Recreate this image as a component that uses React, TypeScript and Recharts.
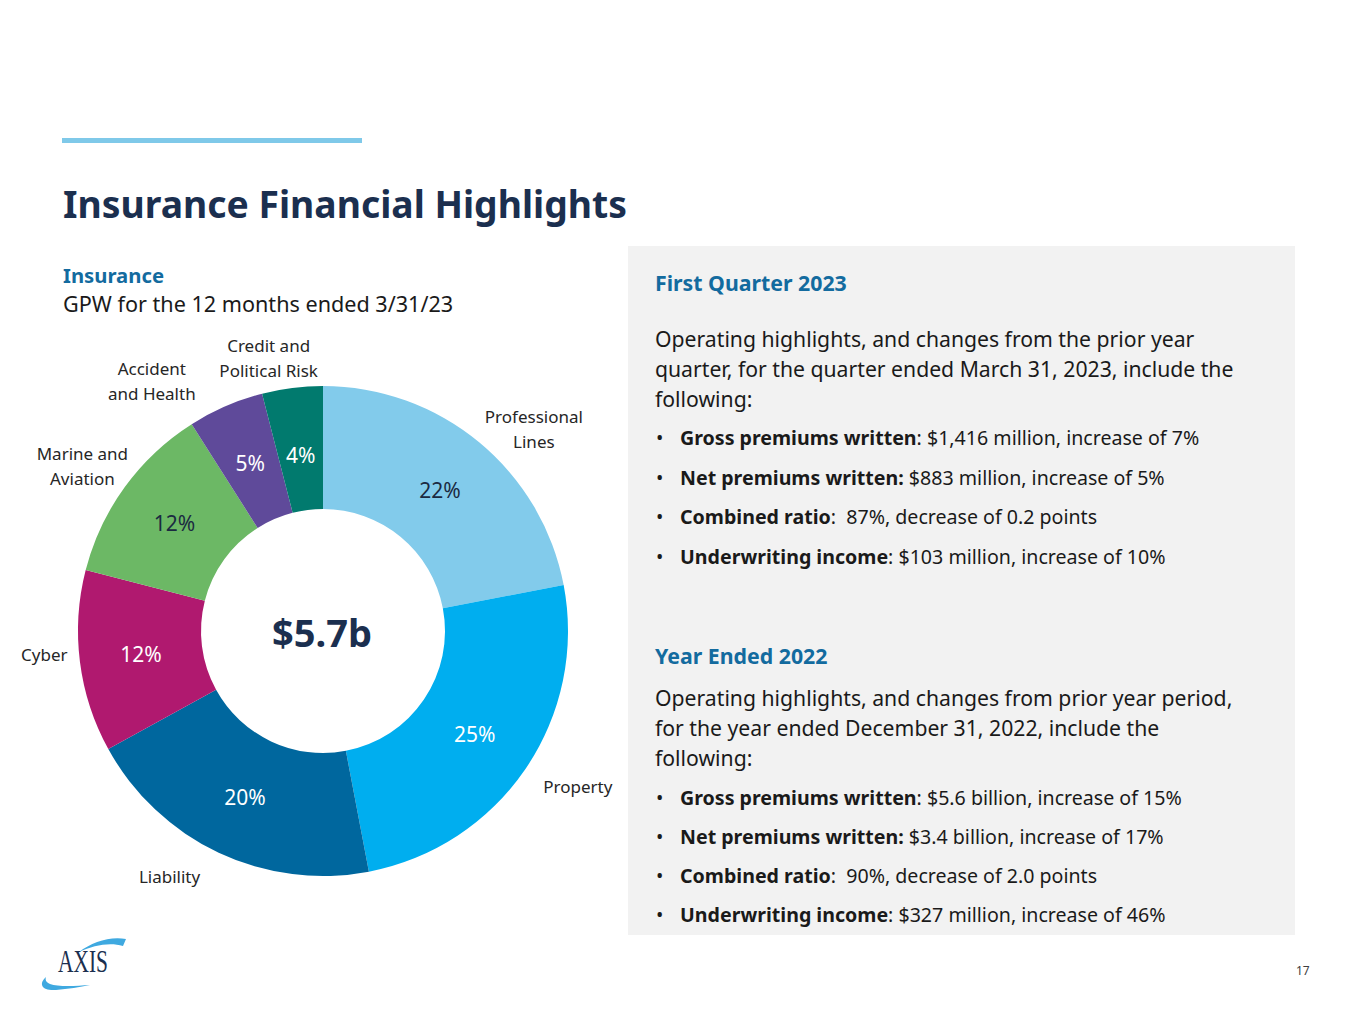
import React from 'react';
import { PieChart, Pie, Cell } from 'recharts';

// GPW mix, 12 months ended 3/31/23 (clockwise from 12 o'clock)
const segments = ['Professional Lines', 'Property', 'Liability', 'Cyber', 'Marine and Aviation', 'Accident and Health', 'Credit and Political Risk'];
const shares = [22, 25, 20, 12, 12, 5, 4];
const labelLines = [
  ['Professional', 'Lines'],
  ['Property'],
  ['Liability'],
  ['Cyber'],
  ['Marine and', 'Aviation'],
  ['Accident', 'and Health'],
  ['Credit and', 'Political Risk'],
];

const q1Bullets = [
  ['Gross premiums written', ': $1,416 million, increase of 7%'],
  ['Net premiums written:', ' $883 million, increase of 5%'],
  ['Combined ratio', ':  87%, decrease of 0.2 points'],
  ['Underwriting income', ': $103 million, increase of 10%'],
];
const fyBullets = [
  ['Gross premiums written', ': $5.6 billion, increase of 15%'],
  ['Net premiums written:', ' $3.4 billion, increase of 17%'],
  ['Combined ratio', ':  90%, decrease of 2.0 points'],
  ['Underwriting income', ': $327 million, increase of 46%'],
];

const sliceColors = ['#82CBEB', '#00AEEF', '#00679E', '#B0196F', '#6CB865', '#5F4A9A', '#017A6E'];
const pctColors = ['#1B2A41', '#FFFFFF', '#FFFFFF', '#FFFFFF', '#1B2A41', '#FFFFFF', '#FFFFFF'];
// nudges for the outside category names
const nameNudge = [[26, 21], [15, -8], [-30, -17], [9, -13], [-6, 5], [-56, 16], [-18, 15]];

const navy = '#1B2F4F';
const blue = '#136B9F';
const font = '"Noto Sans", "Open Sans", sans-serif';

const pieData = segments.map((name, i) => ({ name, value: shares[i] }));

const RAD = Math.PI / 180;

const renderLabel = (props: any) => {
  const { cx, cy, midAngle, innerRadius, outerRadius, index } = props;
  const rMid = (innerRadius + outerRadius) / 2 - (index === 6 ? 6 : 0);
  const px = cx + rMid * Math.cos(-midAngle * RAD);
  const py = cy + rMid * Math.sin(-midAngle * RAD);
  const rOut = outerRadius + 45;
  const nx = cx + rOut * Math.cos(-midAngle * RAD) + nameNudge[index][0];
  const ny = cy + rOut * Math.sin(-midAngle * RAD) + nameNudge[index][1];
  const lines = labelLines[index];
  const lh = 25;
  const startY = ny - ((lines.length - 1) * lh) / 2;
  return (
    <g>
      <text x={px} y={py} textAnchor="middle" dominantBaseline="central" fill={pctColors[index]} fontSize={21} fontFamily={font}>
        {shares[index]}%
      </text>
      <text textAnchor="middle" fill="#262626" fontSize={17} fontFamily={font}>
        {lines.map((l, k) => (
          <tspan key={k} x={nx} y={startY + k * lh} dominantBaseline="central">{l}</tspan>
        ))}
      </text>
    </g>
  );
};

const Bullets = ({ items, top, step }: { items: string[][]; top: number; step: number }) => (
  <div style={{ position: 'absolute', left: 0, top, width: 660 }}>
    {items.map((b, i) => (
      <div key={i} style={{ position: 'absolute', top: i * step, left: 0, height: step, lineHeight: `${step}px`, fontSize: 19.6, color: '#1a1a1a', whiteSpace: 'pre' }}>
        <span style={{ position: 'absolute', left: 28 }}>•</span>
        <span style={{ position: 'absolute', left: 52 }}>
          <b>{b[0]}</b>{b[1]}
        </span>
      </div>
    ))}
  </div>
);

const App: React.FC = () => {
  return (
    <div style={{ position: 'absolute', left: 0, top: 0, width: 1365, height: 1022, background: '#fff', fontFamily: font, overflow: 'hidden' }}>
      <div style={{ position: 'absolute', left: 62, top: 138, width: 300, height: 5, background: '#7FC9E9' }} />
      <div style={{ position: 'absolute', left: 63, top: 179, fontSize: 37.3, fontWeight: 700, color: navy, lineHeight: '50px', whiteSpace: 'nowrap' }}>
        Insurance Financial Highlights
      </div>

      <div style={{ position: 'absolute', left: 63, top: 263, fontSize: 20.3, fontWeight: 700, color: blue, lineHeight: '24px' }}>Insurance</div>
      <div style={{ position: 'absolute', left: 63, top: 292, fontSize: 21.6, color: '#1a1a1a', lineHeight: '24px', whiteSpace: 'nowrap' }}>
        GPW for the 12 months ended 3/31/23
      </div>

      <div style={{ position: 'absolute', left: 3, top: 311 }}>
        <PieChart width={640} height={640} margin={{ top: 0, right: 0, bottom: 0, left: 0 }}>
          <Pie
            data={pieData}
            dataKey="value"
            nameKey="name"
            cx={320}
            cy={320}
            innerRadius={122}
            outerRadius={245}
            startAngle={90}
            endAngle={-270}
            stroke="none"
            label={renderLabel}
            labelLine={false}
            isAnimationActive={false}
          >
            {pieData.map((d, i) => (
              <Cell key={d.name} fill={sliceColors[i]} />
            ))}
          </Pie>
          <text x={319} y={321} textAnchor="middle" dominantBaseline="central" fontSize={38} fontWeight={700} fill={navy} fontFamily={font}>
            $5.7b
          </text>
        </PieChart>
      </div>

      <div style={{ position: 'absolute', left: 628, top: 246, width: 667, height: 689, background: '#F2F2F2' }}>
        <div style={{ position: 'absolute', left: 27, top: 22, fontSize: 21.3, fontWeight: 700, color: blue, lineHeight: '30px' }}>First Quarter 2023</div>
        <div style={{ position: 'absolute', left: 27, top: 78, fontSize: 21.2, color: '#1a1a1a', lineHeight: '30px', whiteSpace: 'nowrap' }}>
          Operating highlights, and changes from the prior year<br />
          quarter, for the quarter ended March 31, 2023, include the<br />
          following:
        </div>
        <Bullets items={q1Bullets} top={172} step={39.6} />

        <div style={{ position: 'absolute', left: 27, top: 395, fontSize: 21.3, fontWeight: 700, color: blue, lineHeight: '30px' }}>Year Ended 2022</div>
        <div style={{ position: 'absolute', left: 27, top: 437, fontSize: 21.2, color: '#1a1a1a', lineHeight: '30px', whiteSpace: 'nowrap' }}>
          Operating highlights, and changes from prior year period,<br />
          for the year ended December 31, 2022, include the<br />
          following:
        </div>
        <Bullets items={fyBullets} top={532} step={39} />
      </div>

      <svg style={{ position: 'absolute', left: 36, top: 928 }} width={96} height={66}>
        <path d="M43 24 C 56 14, 74 8, 90 11 L 87 18 C 74 14, 58 17, 43 24 Z" fill="#3FA9E0" />
        <path d="M10 49 C 2 56, 6 63, 20 62 C 32 61, 44 59, 54 57 C 40 58, 22 59, 14 56 C 10 54, 9 52, 10 49 Z" fill="#3FA9E0" />
        <text x={22} y={44} fontSize={32} textLength={50} lengthAdjust="spacingAndGlyphs" fontFamily='"Liberation Serif", "DejaVu Serif", serif' fill={navy}>AXIS</text>
      </svg>

      <div style={{ position: 'absolute', left: 1296, top: 962, fontSize: 12, color: '#404040' }}>17</div>
    </div>
  );
};

export default App;
